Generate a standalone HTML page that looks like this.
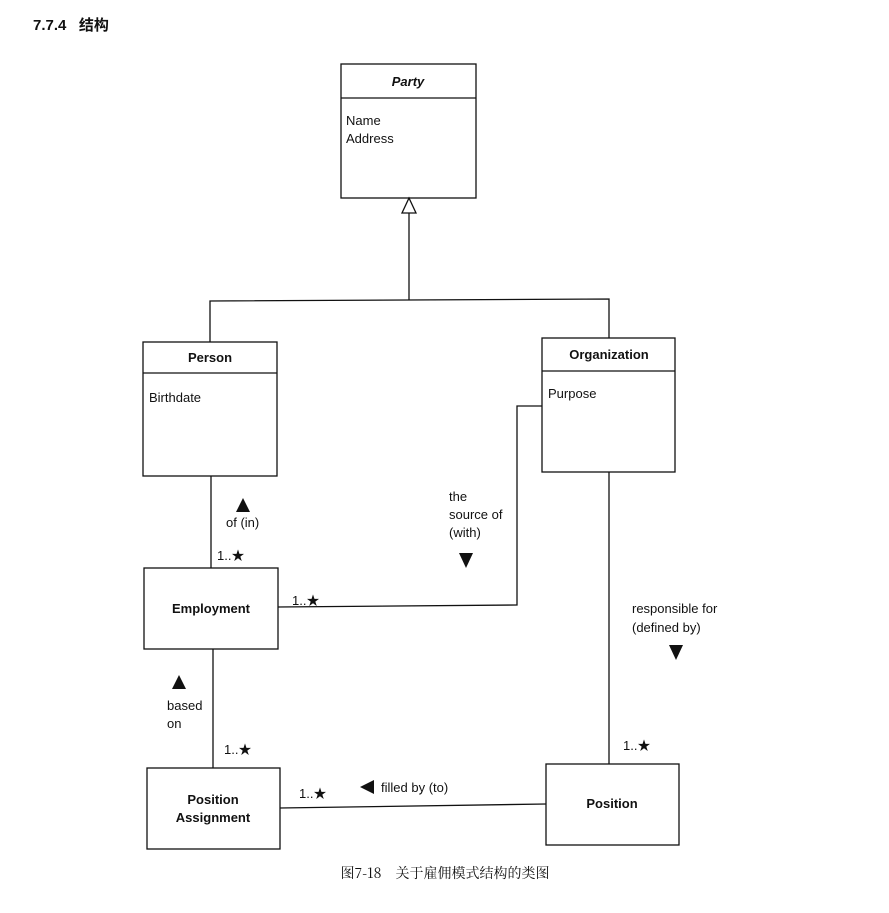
<!DOCTYPE html>
<html><head><meta charset="utf-8"><style>
html,body{margin:0;padding:0;background:#fff;}
svg{display:block}
text{font-family:"Liberation Sans","Noto Sans CJK SC",sans-serif;fill:#111;font-size:13px}
.b{font-weight:bold}
</style></head><body>
<svg width="889" height="913" viewBox="0 0 889 913" xmlns="http://www.w3.org/2000/svg">
<text x="33" y="30" class="b" font-size="15" style="font-size:15px">7.7.4&#160;&#160;&#160;结构</text>
<g fill="none" stroke="#111" stroke-width="1.3">
<!-- Party -->
<rect x="341" y="64" width="135" height="134"/>
<line x1="341" y1="98" x2="476" y2="98"/>
<polygon points="409,198 402,213 416,213" fill="#fff"/>
<line x1="409" y1="213" x2="409" y2="300"/>
<polyline points="210,342 210,301 609,299 609,338"/>
<!-- Person -->
<rect x="143" y="342" width="134" height="134"/>
<line x1="143" y1="373" x2="277" y2="373"/>
<!-- Organization -->
<rect x="542" y="338" width="133" height="134"/>
<line x1="542" y1="371" x2="675" y2="371"/>
<!-- Employment -->
<rect x="144" y="568" width="134" height="81"/>
<line x1="211" y1="476" x2="211" y2="568"/>
<polyline points="278,607 517,605 517,406 542,406"/>
<!-- Position Assignment -->
<rect x="147" y="768" width="133" height="81"/>
<line x1="213" y1="649" x2="213" y2="768"/>
<!-- Position -->
<rect x="546" y="764" width="133" height="81"/>
<line x1="609" y1="472" x2="609" y2="764"/>
<line x1="280" y1="808" x2="546" y2="804"/>
</g>
<text x="408" y="86" class="b" text-anchor="middle" font-style="italic">Party</text>
<text x="346" y="125">Name</text>
<text x="346" y="143">Address</text>
<text x="210" y="362" class="b" text-anchor="middle">Person</text>
<text x="149" y="402">Birthdate</text>
<text x="609" y="359" class="b" text-anchor="middle">Organization</text>
<text x="548" y="398">Purpose</text>
<text x="211" y="613" class="b" text-anchor="middle">Employment</text>
<text x="213" y="804" class="b" text-anchor="middle">Position</text>
<text x="213" y="822" class="b" text-anchor="middle">Assignment</text>
<text x="612" y="808" class="b" text-anchor="middle">Position</text>
<g fill="#111">
<polygon points="243,498 236,512 250,512"/>
<polygon points="459,553 473,553 466,568"/>
<polygon points="669,645 683,645 676,660"/>
<polygon points="179,675 172,689 186,689"/>
<polygon points="360,787 374,780 374,794"/>
</g>
<text x="226" y="527">of (in)</text>
<text x="217" y="560">1..★</text>
<text x="449" y="501">the</text>
<text x="449" y="519">source of</text>
<text x="449" y="537">(with)</text>
<text x="292" y="605">1..★</text>
<text x="632" y="613">responsible for</text>
<text x="632" y="632">(defined by)</text>
<text x="167" y="710">based</text>
<text x="167" y="728">on</text>
<text x="224" y="754">1..★</text>
<text x="299" y="798">1..★</text>
<text x="381" y="792">filled by (to)</text>
<text x="623" y="750">1..★</text>
<text x="445" y="878" text-anchor="middle" style="font-family:'Noto Serif CJK SC','Liberation Serif',serif;font-size:14px">图7-18　关于雇佣模式结构的类图</text>
</svg>
</body></html>
